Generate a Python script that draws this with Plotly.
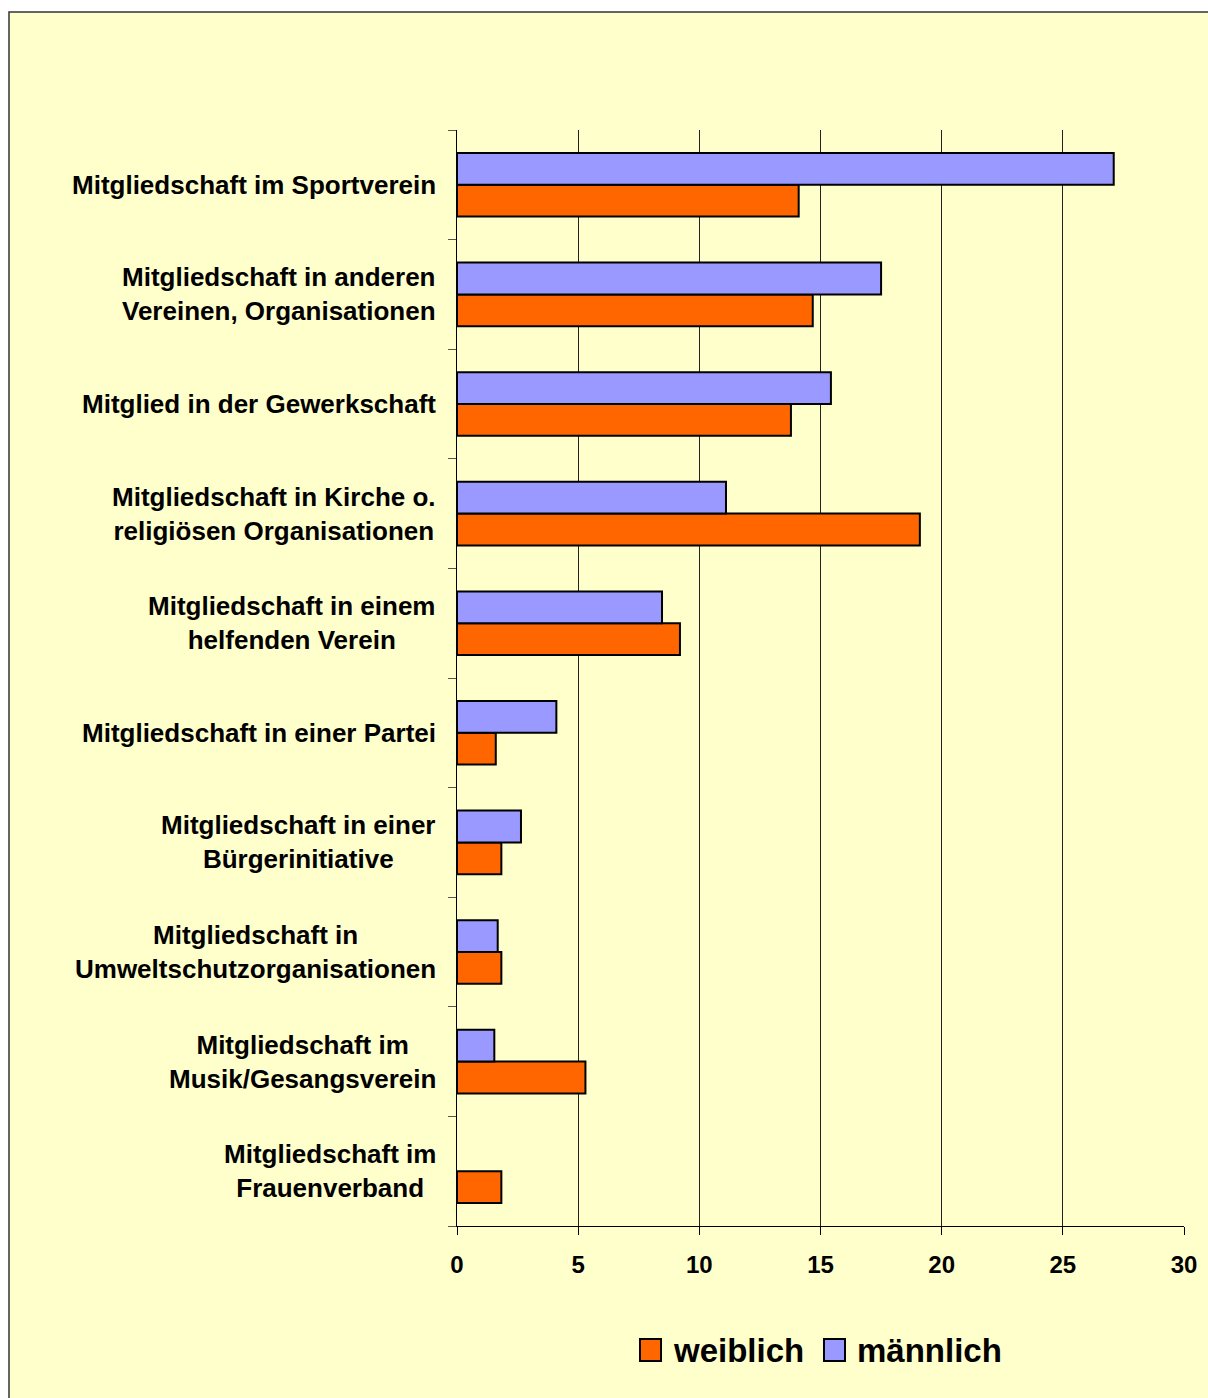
import plotly.graph_objects as go

categories = [
    "Mitgliedschaft im Sportverein",
    "Mitgliedschaft in anderen<br>Vereinen, Organisationen",
    "Mitglied in der Gewerkschaft",
    "Mitgliedschaft in Kirche o.<br>religiösen Organisationen",
    "Mitgliedschaft in einem<br>helfenden Verein",
    "Mitgliedschaft in einer Partei",
    "Mitgliedschaft in einer<br>Bürgerinitiative",
    "Mitgliedschaft in<br>Umweltschutzorganisationen",
    "Mitgliedschaft im<br>Musik/Gesangsverein",
    "Mitgliedschaft im<br>Frauenverband",
]
weiblich = [14.1, 14.68, 13.78, 19.1, 9.2, 1.6, 1.83, 1.83, 5.3, 1.83]
maennlich = [27.1, 17.5, 15.43, 11.1, 8.46, 4.1, 2.64, 1.68, 1.54, None]
x_ticks = [0, 5, 10, 15, 20, 25, 30]
series_names = ["weiblich", "männlich"]
series_colors = ["#FF6600", "#9999FF"]

FONT = "Liberation Sans, Arial, sans-serif"
order = categories[::-1]

# plot-area geometry in page pixels (body margin removed below)
W, H = 1208, 1398
L, R, T, B = 457, 24, 130, 172
PW, PH = W - L - R, H - T - B


def px(x):
    return (x - L) / PW


def py(y):
    return (H - B - y) / PH


fig = go.Figure()
for name, vals, col in zip(series_names, [weiblich, maennlich], series_colors):
    fig.add_trace(go.Bar(
        y=categories, x=vals, orientation="h", name=name,
        marker=dict(color=col, line=dict(color="black", width=2)),
        showlegend=False,
    ))

for c in categories:
    fig.add_annotation(
        x=0, xref="paper", y=c, yref="y", text=c, showarrow=False,
        xanchor="right", yanchor="middle", align="center", xshift=-19,
        font=dict(family=FONT, size=26, color="black", weight="bold"),
    )

# outer frame
fig.add_shape(type="rect", xref="paper", yref="paper",
              x0=px(9), x1=px(1215), y0=py(1405), y1=py(12),
              fillcolor="#FFFFCC", line=dict(color="#333333", width=1.5),
              layer="below")

# legend (drawn manually to match the large boxed keys)
legend_x = [640, 824]
for name, col, lx in zip(series_names, series_colors, legend_x):
    fig.add_shape(type="rect", xref="paper", yref="paper",
                  x0=px(lx), x1=px(lx + 21), y0=py(1361), y1=py(1339),
                  fillcolor=col, line=dict(color="black", width=2))
    fig.add_annotation(x=px(lx + 31), y=py(1350), xref="paper", yref="paper",
                       text=name, showarrow=False, xanchor="left", yanchor="middle",
                       font=dict(family=FONT, size=33, color="black", weight="bold"))

fig.update_layout(
    width=W, height=H,
    margin=dict(l=L, r=R, t=T, b=B),
    paper_bgcolor="white", plot_bgcolor="rgba(0,0,0,0)",
    barmode="group", bargap=0.42, bargroupgap=0,
    showlegend=False,
    font=dict(family=FONT, color="black"),
)
fig.update_xaxes(
    range=[0, 30], tickvals=x_ticks, ticktext=[str(v) for v in x_ticks],
    showgrid=True, gridcolor="#222222", gridwidth=1,
    showline=True, linecolor="black", linewidth=1,
    ticks="outside", ticklen=8, tickcolor="black", ticklabelstandoff=9,
    tickfont=dict(family=FONT, size=24, color="black", weight="bold"),
    zeroline=False, fixedrange=True,
)
fig.update_yaxes(
    type="category", categoryorder="array", categoryarray=order,
    showticklabels=False, showgrid=False,
    showline=True, linecolor="black", linewidth=1,
    ticks="outside", ticklen=8, tickcolor="#555555", tickson="boundaries",
    fixedrange=True,
)

fig.write_html("out.html",
               config={"displayModeBar": False},
               post_script="document.body.style.margin='0px';document.body.style.overflow='hidden';")
